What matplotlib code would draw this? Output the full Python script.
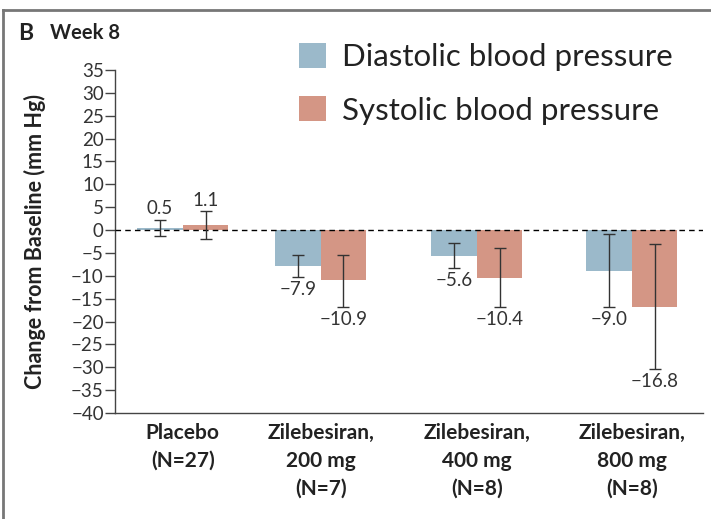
import numpy as np
import matplotlib.pyplot as plt
from matplotlib.patches import Patch
from matplotlib.lines import Line2D

plt.rcParams['font.family'] = ['Lato', 'DejaVu Sans']

groups = ['Placebo\n(N=27)', 'Zilebesiran,\n200 mg\n(N=7)',
          'Zilebesiran,\n400 mg\n(N=8)', 'Zilebesiran,\n800 mg\n(N=8)']
diastolic = [0.5, -7.9, -5.6, -9.0]
systolic = [1.1, -10.9, -10.4, -16.8]
# 95% CI bounds
dia_low = [-1.2, -10.3, -8.3, -16.8]
dia_high = [2.3, -5.5, -2.9, -0.9]
sys_low = [-2.0, -16.8, -16.8, -30.4]
sys_high = [4.1, -5.4, -3.9, -3.1]

blue = '#9bb9ca'
salmon = '#d49685'
ink = '#333333'

fig = plt.figure(figsize=(7.11, 5.19), dpi=100)
ax = fig.add_axes([0.1617, 0.2042, 0.827, 0.661])

pos = np.array([0, 3.03, 6.46, 9.87])
w = 1.0
xd = pos - w / 2
xs = pos + w / 2

ax.bar(xd, diastolic, w, color=blue, zorder=2)
ax.bar(xs, systolic, w, color=salmon, zorder=2)

dia = np.array(diastolic)
sy = np.array(systolic)
ax.errorbar(xd, dia, yerr=[dia - np.array(dia_low), np.array(dia_high) - dia],
            fmt='none', ecolor=ink, elinewidth=1, capsize=4, capthick=1, zorder=4)
ax.errorbar(xs, sy, yerr=[sy - np.array(sys_low), np.array(sys_high) - sy],
            fmt='none', ecolor=ink, elinewidth=1, capsize=4, capthick=1, zorder=4)

ax.axhline(0, color='black', lw=1, ls=(0, (4, 3)), zorder=3)

# value labels beyond the CI ends
for x, v, lo, hi in list(zip(xd, diastolic, dia_low, dia_high)) + list(zip(xs, systolic, sys_low, sys_high)):
    txt = f'{v:.1f}'.replace('-', '\u2212')
    if v >= 0:
        ax.annotate(txt, (x, hi), xytext=(0, 2), textcoords='offset points',
                    ha='center', va='bottom', fontsize=13.5, color=ink)
    else:
        ax.annotate(txt, (x, lo), xytext=(0, -3), textcoords='offset points',
                    ha='center', va='top', fontsize=13.5, color=ink)

ax.set_xlim(-1.49, 11.43)
ax.set_ylim(-40, 35)
ax.set_yticks(np.arange(-40, 36, 5))
ax.set_xticks(pos)
ax.set_xticklabels(groups, fontsize=15, fontweight='bold', linespacing=1.5, color='#222222')
ax.tick_params(axis='x', length=0, pad=7)
ax.tick_params(axis='y', length=7, width=1, color='#444444', labelsize=13.5,
               labelcolor=ink, pad=1)

for s in ['top', 'right']:
    ax.spines[s].set_visible(False)
for s in ['left', 'bottom']:
    ax.spines[s].set_color('#444444')
    ax.spines[s].set_linewidth(1)

ax.set_ylabel('Change from Baseline (mm Hg)', fontsize=15.5, fontweight='bold', color='#222222')
ax.yaxis.set_label_coords(-0.118, 0.5)

handles = [Patch(facecolor=blue, label='Diastolic blood pressure'),
           Patch(facecolor=salmon, label='Systolic blood pressure')]
fig.legend(handles=handles, loc='upper left', bbox_to_anchor=(0.399, 0.947),
           frameon=False, fontsize=22.5, handlelength=0.85, handleheight=0.85,
           handletextpad=0.5, labelspacing=0.8, borderpad=0, labelcolor='#222222')

fig.text(0.025, 0.936, 'B', fontsize=16.5, fontweight='bold', va='center', color='#222222')
fig.text(0.070, 0.936, 'Week 8', fontsize=14.5, fontweight='bold', va='center', color='#222222')

# panel frame
fig.add_artist(Line2D([3 / 711, 1], [1 - 10 / 519, 1 - 10 / 519], color='#777777', lw=2))
fig.add_artist(Line2D([3 / 711, 3 / 711], [0, 1 - 10 / 519], color='#777777', lw=2))

fig.savefig('out.png', dpi=100)
